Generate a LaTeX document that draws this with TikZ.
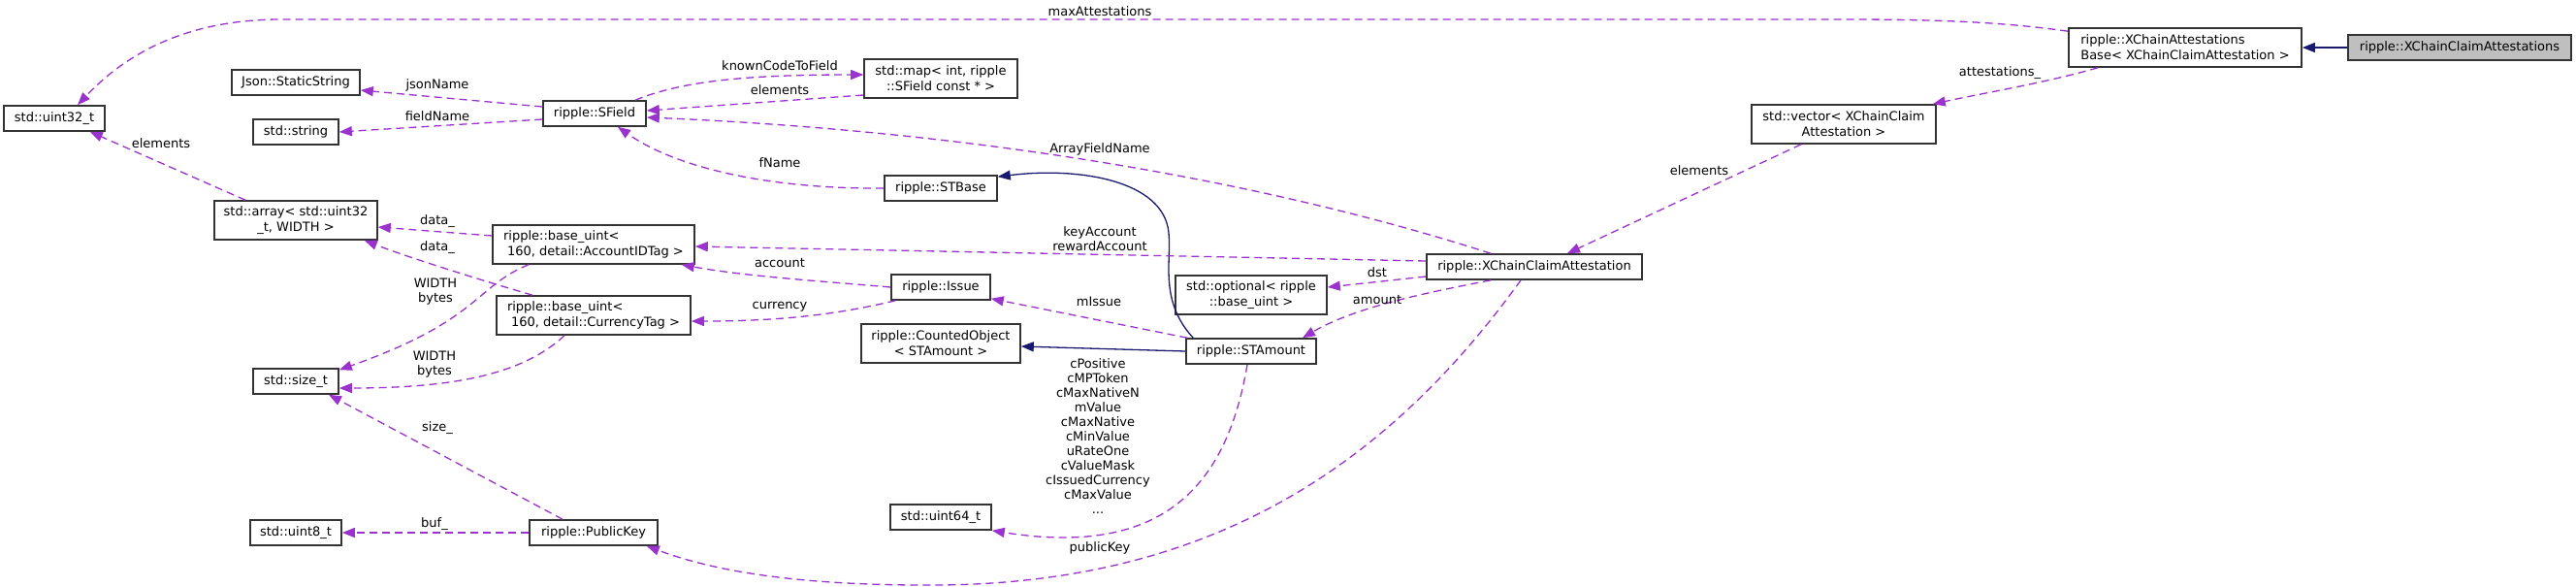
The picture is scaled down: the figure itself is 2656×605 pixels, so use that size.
\documentclass[tikz,border=0pt]{standalone}
\usepackage{fontspec}
\setmainfont{DejaVu Sans}
\usepackage{xcolor}
\usepackage{tikz}
\usetikzlibrary{arrows.meta}
\definecolor{dxpurple}{RGB}{154,50,205}
\definecolor{dxnavy}{RGB}{25,25,112}
\definecolor{dxgray}{RGB}{191,191,191}
\tikzset{
  cls/.style={rectangle, draw=black!80, fill=white, line width=1.6pt,
              minimum height=26pt, inner sep=0pt, align=center,
              font=\fontsize{13}{16}\selectfont},
  cls2/.style={cls, minimum height=40pt},
  focus/.style={cls, fill=dxgray},
  usage/.style={-{Triangle[length=13pt,width=10pt]}, draw=dxpurple,
                line width=1.3pt, dash pattern=on 8pt off 5pt},
  inherit/.style={-{Triangle[length=13pt,width=10pt]}, draw=dxnavy,
                  line width=1.3pt},
  lbl/.style={inner sep=0pt, align=center, font=\fontsize{13}{15}\selectfont}
}

\begin{document}
\begin{tikzpicture}[x=1pt, y=-1pt]
\useasboundingbox (0,0) rectangle (2656,605);

% --- Right side: the class and its base ---
\node[focus, minimum width=230pt] (xccas) at (2536,49) {ripple::XChainClaimAttestations};
\node[cls2, minimum width=240pt, align=left] (xbase) at (2253,49)
  {ripple::XChainAttestations\\Base< XChainClaimAttestation >};
\node[cls2, minimum width=190pt] (vector) at (1901,128) {std::vector< XChainClaim\\Attestation >};
\node[cls, minimum width=222pt] (xcca) at (1582,275) {ripple::XChainClaimAttestation};

% --- Middle columns ---
\node[cls2, minimum width=156pt] (optional) at (1290,304) {std::optional< ripple\\::base\_uint >};
\node[cls, minimum width=134pt] (stamount) at (1290,362) {ripple::STAmount};
\node[cls2, minimum width=158pt] (stdmap) at (970,81) {std::map< int, ripple\\::SField const * >};
\node[cls, minimum width=116pt] (stbase) at (970,194) {ripple::STBase};
\node[cls, minimum width=102pt] (issue) at (970,296) {ripple::Issue};
\node[cls2, minimum width=164pt] (counted) at (970,354) {ripple::CountedObject\\< STAmount >};
\node[cls, minimum width=104pt] (uint64) at (970,533) {std::uint64\_t};

% --- Left columns ---
\node[cls, minimum width=106pt] (sfield) at (613,117) {ripple::SField};
\node[cls2, minimum width=208pt, align=left] (acctag) at (612,252)
  {ripple::base\_uint<\\\hspace*{4pt}160, detail::AccountIDTag >};
\node[cls2, minimum width=200pt, align=left] (curtag) at (612,325)
  {ripple::base\_uint<\\\hspace*{4pt}160, detail::CurrencyTag >};
\node[cls, minimum width=132pt] (pubkey) at (612,549) {ripple::PublicKey};
\node[cls, minimum width=132pt] (jsonss) at (305,85) {Json::StaticString};
\node[cls, minimum width=88pt] (stdstring) at (305,136) {std::string};
\node[cls2, minimum width=168pt] (stdarray) at (305,227) {std::array< std::uint32\\\_t, WIDTH >};
\node[cls, minimum width=88pt] (sizet) at (305,393) {std::size\_t};
\node[cls, minimum width=94pt] (uint8) at (305,549) {std::uint8\_t};
\node[cls, minimum width=104pt] (uint32) at (56,122) {std::uint32\_t};

% --- Inheritance ---
\draw[inherit] (xccas.west) -- (xbase.east);
\draw[inherit] (stamount.west) -- ([yshift=-3pt]counted.east);
\draw[inherit] ([xshift=8pt]stamount.north west) .. controls (1195,310) and (1208,270) .. (1205,240)
  .. controls (1200,185) and (1110,172) .. ([yshift=-2pt]stbase.north east);

% --- Members ---
\draw[usage] ([yshift=-4pt]xbase.north west) .. controls (2060,22) and (1990,20) .. (1900,20)
  -- (290,20) .. controls (200,20) and (135,50) .. ([xshift=24pt]uint32.north);
\draw[usage] ([xshift=-90pt]xbase.south) .. controls (2110,85) and (2050,95) .. ([xshift=-4pt]vector.north east);
\draw[usage] ([xshift=-44pt]vector.south) -- ([xshift=34pt]xcca.north);
\draw[usage] ([xshift=-45pt]xcca.north) .. controls (1300,185) and (1000,135) .. ([yshift=-4pt]sfield.east);
\draw[usage] ([yshift=6pt]xcca.west) -- ([yshift=-2pt]acctag.east);
\draw[usage] ([yshift=-10pt]xcca.west) -- ([yshift=8pt]optional.east);
\draw[usage] ([xshift=-45pt]xcca.south) .. controls (1480,300) and (1400,315) .. ([xshift=53pt]stamount.north);
\draw[usage] ([xshift=-14pt]xcca.south) .. controls (1430,480) and (1250,600) .. (970,603)
  .. controls (830,604) and (740,590) .. ([xshift=-12pt]pubkey.south east);

\draw[usage] ([xshift=2pt]stamount.north west) -- ([yshift=2pt]issue.south east);
\draw[usage] ([xshift=-4pt]stamount.south) .. controls (1265,500) and (1200,575) .. (uint64.south east);

\draw[usage] (issue.west) .. controls (850,290) and (770,285) .. ([xshift=-14pt]acctag.south east);
\draw[usage] ([xshift=5pt]issue.south west) .. controls (860,325) and (800,331) .. ([yshift=-6pt]curtag.east);
\draw[usage] (stbase.west) .. controls (800,195) and (700,175) .. ([xshift=24pt]sfield.south);

\draw[usage] ([xshift=42pt]sfield.north) .. controls (700,85) and (760,77) .. ([yshift=4pt]stdmap.west);
\draw[usage] ([yshift=-17pt]stdmap.west) -- ([yshift=3pt]sfield.east);
\draw[usage] ([yshift=7pt]sfield.west) -- ([yshift=-8pt]jsonss.east);
\draw[usage] ([yshift=-6pt]sfield.west) -- (stdstring.east);

\draw[usage] ([xshift=-52pt]stdarray.north) -- ([xshift=-16pt]uint32.south east);
\draw[usage] ([yshift=9pt]acctag.west) -- ([yshift=-7pt]stdarray.east);
\draw[usage] ([xshift=-63pt]curtag.north) .. controls (500,290) and (420,265) .. ([xshift=-14pt]stdarray.south east);
\draw[usage] ([xshift=-67pt]acctag.south) .. controls (490,295) and (495,330) .. ([yshift=-2pt]sizet.north east);
\draw[usage] ([xshift=-30pt]curtag.south) .. controls (540,385) and (470,400) .. ([yshift=-7pt]sizet.east);
\draw[usage] ([xshift=-32pt]pubkey.north) -- ([xshift=34pt]sizet.south);
\draw[usage] (pubkey.west) -- (uint8.east);

% --- Edge labels ---
\node[lbl] (lmax) at (1134,12) {maxAttestations};
\node[lbl] (lattest) at (2062,75) {attestations\_};
\node[lbl] (lelemvec) at (1752,176) {elements};
\node[lbl] (larrname) at (1134,154) {ArrayFieldName};
\node[lbl] (lkey) at (1134,246) {keyAccount\\rewardAccount};
\node[lbl] (ldst) at (1420,281) {dst};
\node[lbl] (lamount) at (1420,309) {amount};
\node[lbl] (lpubkey) at (1134,565) {publicKey};
\node[lbl] (lmissue) at (1133,311) {mIssue};
\node[lbl] (lconst) at (1132,449.5) {cPositive\\cMPToken\\cMaxNativeN\\mValue\\cMaxNative\\cMinValue\\uRateOne\\cValueMask\\cIssuedCurrency\\cMaxValue\\...};
\node[lbl] (laccount) at (804,271) {account};
\node[lbl] (lcurrency) at (804,316) {currency};
\node[lbl] (lfname) at (804,168) {fName};
\node[lbl] (lknown) at (804,68) {knownCodeToField};
\node[lbl] (lelemmap) at (804,93) {elements};
\node[lbl] (ljson) at (451,88) {jsonName};
\node[lbl] (lfield) at (451,120) {fieldName};
\node[lbl] (lelemarr) at (166,148) {elements};
\node[lbl] (ldataacc) at (451,228) {data\_};
\node[lbl] (ldatacur) at (451,255) {data\_};
\node[lbl] (lwidthacc) at (449,301) {WIDTH\\bytes};
\node[lbl] (lwidthcur) at (448,376) {WIDTH\\bytes};
\node[lbl] (lsize) at (451,441) {size\_};
\node[lbl] (lbuf) at (448,540) {buf\_};

\end{tikzpicture}
\end{document}
